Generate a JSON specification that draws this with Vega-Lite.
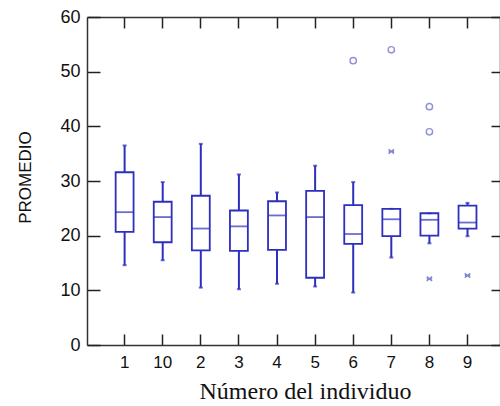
{
  "$schema": "https://vega.github.io/schema/vega-lite/v6.json",
  "width": 413,
  "height": 328,
  "autosize": "none",
  "padding": {"left": 87, "top": 17, "right": 0, "bottom": 61},
  "background": "white",
  "config": {"view": {"stroke": null}},
  "datasets": {
    "boxes": [
      {"id": "1", "lower": 14.6, "q1": 20.7, "median": 24.3, "q3": 31.6, "upper": 36.5},
      {"id": "10", "lower": 15.5, "q1": 18.8, "median": 23.4, "q3": 26.2, "upper": 29.8},
      {"id": "2", "lower": 10.5, "q1": 17.3, "median": 21.3, "q3": 27.3, "upper": 36.8},
      {"id": "3", "lower": 10.2, "q1": 17.2, "median": 21.7, "q3": 24.6, "upper": 31.2},
      {"id": "4", "lower": 11.2, "q1": 17.4, "median": 23.7, "q3": 26.3, "upper": 27.9},
      {"id": "5", "lower": 10.7, "q1": 12.3, "median": 23.4, "q3": 28.2, "upper": 32.8},
      {"id": "6", "lower": 9.6, "q1": 18.5, "median": 20.3, "q3": 25.6, "upper": 29.8},
      {"id": "7", "lower": 16.0, "q1": 19.9, "median": 23.0, "q3": 24.9, "upper": 24.9},
      {"id": "8", "lower": 18.6, "q1": 20.0, "median": 22.9, "q3": 24.1, "upper": 24.1},
      {"id": "9", "lower": 19.9, "q1": 21.3, "median": 22.4, "q3": 25.5, "upper": 26.0}
    ],
    "outliers": [
      {"id": "6", "value": 52.0, "kind": "circle"},
      {"id": "7", "value": 54.0, "kind": "circle"},
      {"id": "7", "value": 35.4, "kind": "star"},
      {"id": "8", "value": 43.6, "kind": "circle"},
      {"id": "8", "value": 39.0, "kind": "circle"},
      {"id": "8", "value": 12.1, "kind": "star"},
      {"id": "9", "value": 12.7, "kind": "star"}
    ]
  },
  "layer": [
    {
      "data": {"name": "boxes"},
      "encoding": {
        "x": {
          "field": "id", "type": "nominal",
          "scale": {"domain": ["1","10","2","3","4","5","6","7","8","9"], "paddingInner": 0, "paddingOuter": 0.42, "align": 0.58},
          "axis": {
            "orient": "bottom", "title": "Número del individuo", "labelAngle": 0,
            "tickSize": -11, "tickWidth": 1.5, "tickColor": "#222",
            "domainColor": "#333", "domainWidth": 1.5,
            "labelFont": "Liberation Sans", "labelFontSize": 17, "labelColor": "#111", "labelPadding": 20,
            "titleFont": "Liberation Serif", "titleFontSize": 24, "titleFontWeight": "normal", "titleColor": "#111",
            "titleX": 218, "titleY": 53, "titleBaseline": "alphabetic", "titleAlign": "center"
          }
        }
      },
      "layer": [
        {
          "mark": {"type": "rule", "color": "#2e2ebf", "strokeWidth": 2},
          "encoding": {
            "y": {"field": "lower", "type": "quantitative", "title": "PROMEDIO",
              "scale": {"domain": [0, 60], "nice": false},
              "axis": {
                "orient": "left", "values": [0,10,20,30,40,50,60], "grid": false,
                "tickSize": -13, "tickWidth": 1.5, "tickColor": "#222",
                "domainColor": "#333", "domainWidth": 1.5,
                "labelFont": "Liberation Sans", "labelFontSize": 18, "labelColor": "#111", "labelPadding": 20,
                "titleFont": "Liberation Sans", "titleFontSize": 17, "titleFontWeight": "normal", "titleColor": "#111",
                "titleAngle": -90, "titleX": -62, "titleY": 160, "titleAlign": "center", "titleBaseline": "middle"
              }},
            "y2": {"field": "q1"}
          }
        },
        {
          "mark": {"type": "rule", "color": "#2e2ebf", "strokeWidth": 2},
          "encoding": {
            "y": {"field": "q3", "type": "quantitative", "title": "PROMEDIO"},
            "y2": {"field": "upper"}
          }
        },
        {
          "mark": {"type": "tick", "color": "#2e2ebf", "size": 4, "thickness": 2},
          "encoding": {"y": {"field": "lower", "type": "quantitative", "title": "PROMEDIO"}}
        },
        {
          "mark": {"type": "tick", "color": "#2e2ebf", "size": 4, "thickness": 2},
          "encoding": {"y": {"field": "upper", "type": "quantitative", "title": "PROMEDIO"}}
        },
        {
          "mark": {"type": "bar", "fill": "white", "fillOpacity": 0, "stroke": "#2e2ebf", "strokeWidth": 1.8, "width": {"band": 0.47}},
          "encoding": {
            "y": {"field": "q1", "type": "quantitative", "title": "PROMEDIO"},
            "y2": {"field": "q3"}
          }
        },
        {
          "mark": {"type": "tick", "color": "#2e2ebf", "size": 18, "thickness": 1.8},
          "encoding": {"y": {"field": "median", "type": "quantitative", "title": "PROMEDIO"}}
        },
        {
          "data": {"name": "outliers"},
          "transform": [{"filter": "datum.kind == 'circle'"}],
          "mark": {"type": "point", "shape": "circle", "filled": false, "stroke": "#6262c8", "strokeWidth": 1.4, "size": 40},
          "encoding": {"y": {"field": "value", "type": "quantitative", "title": "PROMEDIO"}}
        },
        {
          "data": {"name": "outliers"},
          "transform": [{"filter": "datum.kind == 'star'"}],
          "mark": {"type": "point", "shape": "M-1,-0.8L1,0.8M-1,0.8L1,-0.8M-1,0L1,0", "filled": false, "stroke": "#4f4fc4", "strokeWidth": 1.4, "size": 30},
          "encoding": {"y": {"field": "value", "type": "quantitative", "title": "PROMEDIO"}}
        }
      ]
    },
    {
      "data": {"name": "boxes"},
      "mark": {"type": "point", "opacity": 0},
      "encoding": {
        "x": {"field": "id", "type": "nominal",
          "axis": {"orient": "top", "labels": false, "title": null, "tickSize": -11, "tickWidth": 1.5, "tickColor": "#222", "domainColor": "#333", "domainWidth": 1.5}},
        "y": {"field": "median", "type": "quantitative",
          "axis": {"orient": "right", "labels": false, "title": null, "grid": false, "values": [0,10,20,30,40,50,60], "tickSize": -9, "tickWidth": 1.5, "tickColor": "#222", "domainColor": "#333", "domainWidth": 1.5}}
      }
    }
  ],
  "resolve": {"axis": {"x": "independent", "y": "independent"}}
}
